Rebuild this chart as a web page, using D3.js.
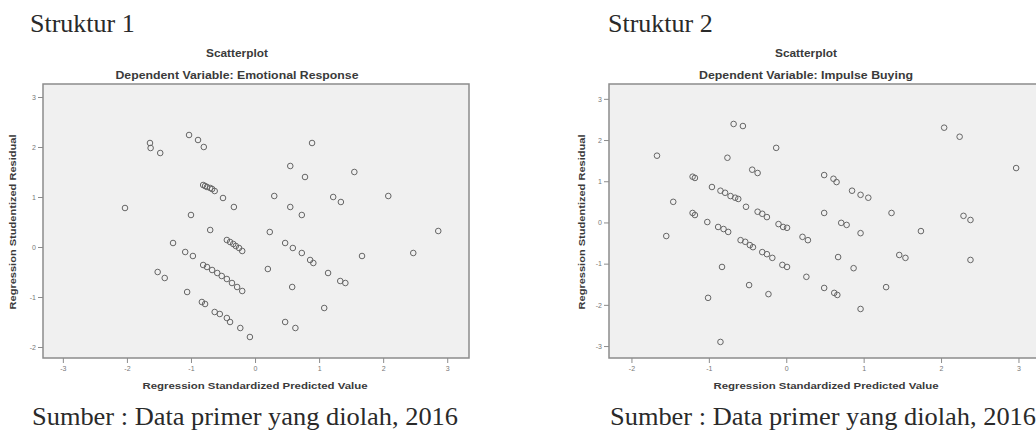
<!DOCTYPE html>
<html>
<head>
<meta charset="utf-8">
<script src="https://cdn.jsdelivr.net/npm/d3@7"></script>
<style>
  body { margin: 0; background: #fff; }
  svg { display: block; }
</style>
</head>
<body>
<script>
// Struktur 1 - Dependent Variable: Emotional Response
// [standardized predicted value, studentized residual]
const points1 = [
    [-2.03, 0.78], [-1.64, 2.08], [-1.63, 1.98], [-1.48, 1.88], [-1.03, 2.24], [-0.89, 2.14], [-0.80, 2.00],
    [-0.81, 1.24], [-0.78, 1.22], [-0.75, 1.20], [-0.70, 1.18], [-0.67, 1.16], [-0.63, 1.12], [-0.50, 0.98], [-0.33, 0.80],
    [-1.00, 0.64], [-0.70, 0.34], [-1.28, 0.08],
    [-0.44, 0.14], [-0.39, 0.10], [-0.34, 0.06], [-0.30, 0.02], [-0.25, -0.02], [-0.20, -0.08],
    [-1.09, -0.10], [-0.97, -0.18], [-1.52, -0.50], [-1.41, -0.62],
    [-0.81, -0.36], [-0.75, -0.40], [-0.67, -0.46], [-0.59, -0.52], [-0.52, -0.58], [-0.44, -0.64], [-0.36, -0.72], [-0.28, -0.80], [-0.20, -0.88],
    [-1.06, -0.90],
    [-0.83, -1.10], [-0.78, -1.14], [-0.63, -1.30], [-0.55, -1.34], [-0.44, -1.42], [-0.39, -1.50], [-0.23, -1.62], [-0.08, -1.80],
    [0.89, 2.08], [0.55, 1.62], [0.78, 1.40], [1.55, 1.50], [0.30, 1.02], [0.55, 0.80], [0.73, 0.64], [1.22, 1.00], [1.34, 0.90],
    [2.08, 1.02], [2.86, 0.32], [2.47, -0.12], [0.20, -0.44], [0.58, -0.80], [1.67, -0.18], [1.08, -1.22], [0.47, -1.50], [0.63, -1.62],
    [0.23, 0.30], [0.47, 0.08], [0.59, -0.02], [0.73, -0.12], [0.86, -0.26], [0.91, -0.32], [1.14, -0.52], [1.33, -0.68], [1.41, -0.72]
];
const xTicks1 = [-3, -2, -1, 0, 1, 2, 3];
const yTicks1 = [-2, -1, 0, 1, 2, 3];

// Struktur 2 - Dependent Variable: Impulse Buying
const points2 = [
    [-1.67, 1.62], [-0.68, 2.39], [-0.56, 2.34], [-0.76, 1.57], [-0.13, 1.81], [-0.44, 1.28], [-0.37, 1.20],
    [-1.21, 1.11], [-1.18, 1.08], [-0.96, 0.86], [-0.85, 0.77], [-0.79, 0.72], [-0.72, 0.64], [-0.66, 0.60], [-0.62, 0.57],
    [-0.52, 0.38], [-0.37, 0.26], [-0.31, 0.21], [-0.25, 0.13], [-0.10, -0.04], [-0.04, -0.11], [0.01, -0.13], [0.21, -0.35], [0.28, -0.43],
    [-1.21, 0.23], [-1.18, 0.18], [-1.02, 0.01], [-0.88, -0.11], [-0.81, -0.16], [-0.75, -0.23], [-0.59, -0.43], [-0.53, -0.47],
    [-0.47, -0.55], [-0.43, -0.60], [-0.31, -0.72], [-0.25, -0.77], [-0.18, -0.86], [-0.05, -1.03], [0.01, -1.08], [-0.83, -1.08],
    [-1.46, 0.50], [-1.55, -0.33], [-0.48, -1.52], [-0.23, -1.74], [-1.01, -1.83], [-0.85, -2.90],
    [2.04, 2.30], [2.24, 2.08], [2.97, 1.32], [0.49, 1.15], [0.61, 1.06], [0.65, 0.98], [0.85, 0.77], [0.96, 0.67], [1.06, 0.60],
    [0.49, 0.23], [1.36, 0.23], [0.71, -0.01], [0.78, -0.06], [0.96, -0.26], [1.74, -0.21], [2.29, 0.16], [2.38, 0.06],
    [0.67, -0.84], [0.87, -1.11], [1.46, -0.79], [1.54, -0.86], [2.38, -0.91], [0.26, -1.32], [0.49, -1.59], [0.62, -1.71],
    [0.66, -1.76], [1.29, -1.57], [0.96, -2.10]
];
const xTicks2 = [-2, -1, 0, 1, 2, 3];
const yTicks2 = [-3, -2, -1, 0, 1, 2, 3];

const width = 1036, height = 432;
const serif = '"Liberation Serif", "Times New Roman", serif';
const sans = '"Liberation Sans", Arial, sans-serif';

// Create the SVG container
let svg = d3.select('body')
            .append('svg')
            .attr('width', width)
            .attr('height', height)
            .style('background', '#fff');

function drawPanel(p) {
    // Scales
    const x = d3.scaleLinear().domain(p.xDomain).range([p.left, p.right]);
    const y = d3.scaleLinear().domain(p.yDomain).range([p.bottom, p.top]);

    // Heading above the chart
    svg.append('text')
       .attr('x', p.headX)
       .attr('y', 32)
       .attr('font-family', serif)
       .attr('font-size', 26)
       .attr('fill', '#2a2a2a')
       .text(p.heading);

    // Plot area
    svg.append('rect')
       .attr('x', p.left)
       .attr('y', p.top)
       .attr('width', p.right - p.left)
       .attr('height', p.bottom - p.top)
       .attr('fill', '#f0f0f0')
       .attr('stroke', '#8c8c8c')
       .attr('stroke-width', 1.5);

    // Add x-axis
    const gx = svg.append('g')
       .attr('transform', `translate(0,${p.bottom})`)
       .call(d3.axisBottom(x).tickValues(p.xTicks).tickFormat(d => d)
             .tickSize(5).tickSizeOuter(0).tickPadding(3));
    gx.select('.domain').remove();

    // Add y-axis
    const gy = svg.append('g')
       .attr('transform', `translate(${p.left},0)`)
       .call(d3.axisLeft(y).tickValues(p.yTicks).tickFormat(d => d)
             .tickSize(5).tickSizeOuter(0).tickPadding(2));
    gy.select('.domain').remove();

    svg.selectAll('.tick line').attr('stroke', '#8c8c8c');
    svg.selectAll('.tick text')
       .attr('fill', '#777')
       .attr('font-family', sans)
       .attr('font-size', 7);

    // Chart titles
    svg.append('text')
       .attr('x', p.titleX)
       .attr('y', 57)
       .attr('text-anchor', 'middle')
       .attr('font-family', sans)
       .attr('font-weight', 'bold')
       .attr('font-size', 11)
       .attr('fill', '#3a3a3a')
       .attr('textLength', 62)
       .attr('lengthAdjust', 'spacingAndGlyphs')
       .text('Scatterplot');

    svg.append('text')
       .attr('x', p.titleX)
       .attr('y', 79)
       .attr('text-anchor', 'middle')
       .attr('font-family', sans)
       .attr('font-weight', 'bold')
       .attr('font-size', 11)
       .attr('fill', '#3a3a3a')
       .attr('textLength', p.subLength)
       .attr('lengthAdjust', 'spacingAndGlyphs')
       .text(p.subtitle);

    // Add x-label
    svg.append('text')
       .attr('x', p.xLabelX)
       .attr('y', 389)
       .attr('text-anchor', 'middle')
       .attr('font-family', sans)
       .attr('font-weight', 'bold')
       .attr('font-size', 9)
       .attr('fill', '#3a3a3a')
       .attr('textLength', 225)
       .attr('lengthAdjust', 'spacingAndGlyphs')
       .text('Regression Standardized Predicted Value');

    // Add y-label
    svg.append('text')
       .attr('transform', `translate(${p.yLabelX},222) rotate(-90)`)
       .attr('text-anchor', 'middle')
       .attr('font-family', sans)
       .attr('font-weight', 'bold')
       .attr('font-size', 9)
       .attr('fill', '#3a3a3a')
       .attr('textLength', 175)
       .attr('lengthAdjust', 'spacingAndGlyphs')
       .text('Regression Studentized Residual');

    // Points
    svg.append('g')
       .selectAll('circle')
       .data(p.points)
       .enter()
       .append('circle')
       .attr('cx', d => x(d[0]))
       .attr('cy', d => y(d[1]))
       .attr('r', 2.8)
       .attr('fill', 'none')
       .attr('stroke', '#666')
       .attr('stroke-width', 1);

    // Source note
    svg.append('text')
       .attr('x', p.headX + 2)
       .attr('y', 425)
       .attr('font-family', serif)
       .attr('font-size', 26)
       .attr('fill', '#2a2a2a')
       .attr('textLength', 426)
       .attr('lengthAdjust', 'spacingAndGlyphs')
       .text('Sumber : Data primer yang diolah, 2016');
}

drawPanel({
    heading: 'Struktur 1', headX: 30,
    subtitle: 'Dependent Variable: Emotional Response', subLength: 243, titleX: 237,
    left: 43, right: 469, top: 84, bottom: 358,
    xDomain: [-3.31, 3.34], yDomain: [-2.22, 3.26],
    xTicks: xTicks1, yTicks: yTicks1, points: points1,
    xLabelX: 255, yLabelX: 16
});

drawPanel({
    heading: 'Struktur 2', headX: 608,
    subtitle: 'Dependent Variable: Impulse Buying', subLength: 214, titleX: 806,
    left: 609, right: 1044, top: 84, bottom: 358,
    xDomain: [-2.29, 3.33], yDomain: [-3.29, 3.36],
    xTicks: xTicks2, yTicks: yTicks2, points: points2,
    xLabelX: 826, yLabelX: 585
});
</script>
</body>
</html>
